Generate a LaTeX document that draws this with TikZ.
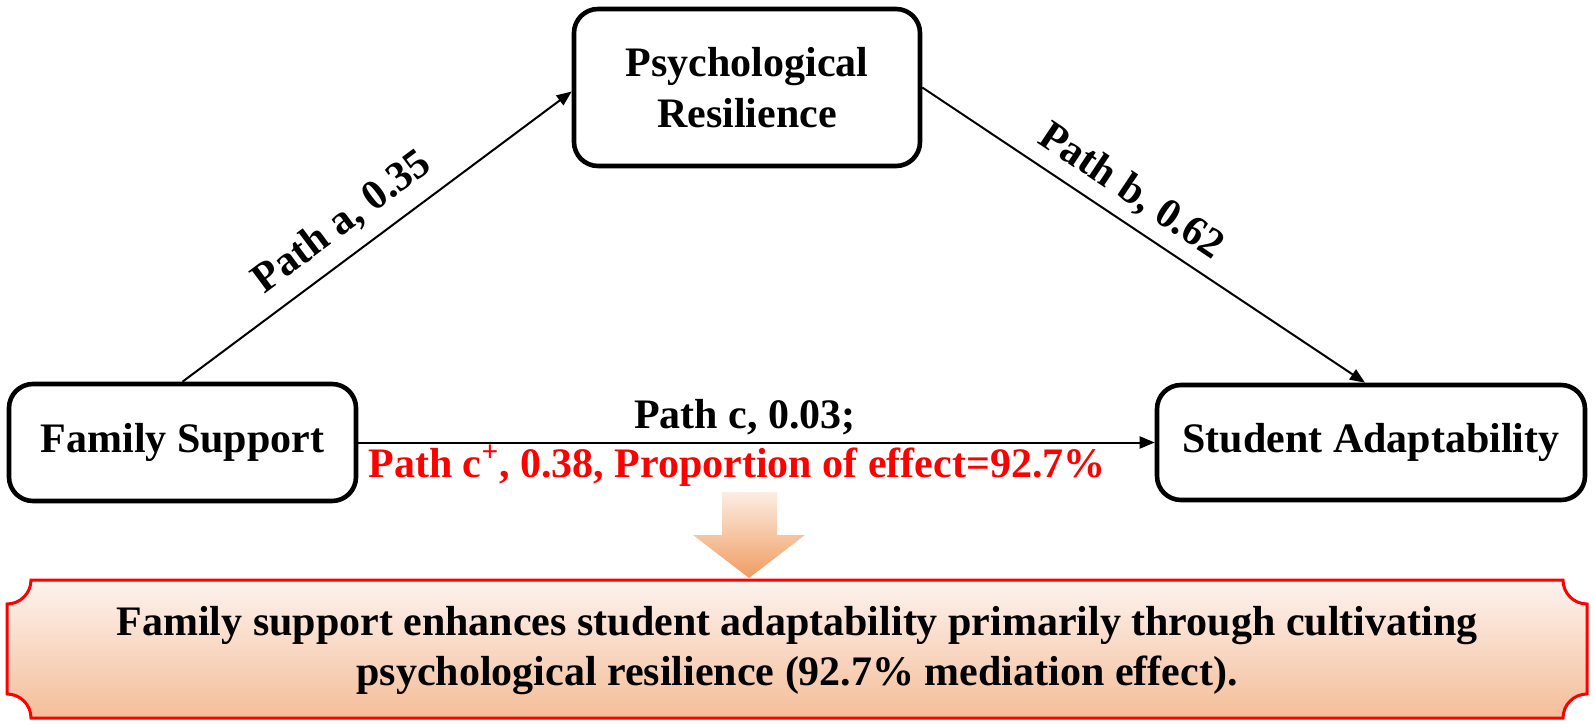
\documentclass[tikz,border=0pt]{standalone}
\usepackage{fontspec}
\setmainfont{Liberation Serif}
\usetikzlibrary{arrows.meta,calc}
\definecolor{boxtop}{HTML}{FDF3EF}
\definecolor{boxmid}{HTML}{F8D6C1}
\definecolor{boxbot}{HTML}{F4BD98}
\definecolor{arrtop}{HTML}{FCEDE4}
\definecolor{arrbot}{HTML}{F09C60}
\begin{document}
\begin{tikzpicture}[x=0.5pt,y=-0.5pt,
  box/.style={draw=black, line width=2.3pt, rounded corners=12pt, fill=white, align=center,
    font=\fontsize{21}{25.5}\selectfont\bfseries, inner sep=0pt},
  conn/.style={line width=1pt, -{Triangle[length=7.5pt,width=6pt]}},
  lbl/.style={font=\fontsize{21}{25}\selectfont\bfseries, inner sep=0pt, text depth=0pt},
  concl/.style={font=\fontsize{21}{25}\selectfont\bfseries, inner sep=0pt, align=center}]
\useasboundingbox (0,0) rectangle (1595,727);
% conclusion box
\path[draw=red, line width=1.5pt, top color=boxtop, middle color=boxmid, bottom color=boxbot]
  (31,580) -- (1563,580) .. controls (1563,593.25) and (1573.75,604) .. (1587,604)
  -- (1587,694) .. controls (1573.75,694) and (1563,704.75) .. (1563,718)
  -- (31,718) .. controls (31,704.75) and (20.25,694) .. (7,694)
  -- (7,604) .. controls (20.25,604) and (31,593.25) .. (31,580) -- cycle;
\node[concl] (concl) at (797,651) {Family support enhances student adaptability primarily through cultivating\\psychological resilience (92.7\% mediation effect).};
% big arrow
\path[top color=arrtop, bottom color=arrbot]
  (722,492) -- (777,492) -- (777,535) -- (805,535) -- (749,578) -- (693,535) -- (722,535) -- cycle;
% nodes
\node[box, minimum width=173pt, minimum height=78.5pt] (psych) at (747,87.5) {Psychological\\Resilience};
\node[box, minimum width=173.5pt, minimum height=58.5pt] (family) at (182.5,442.5) {Family Support};
\node[box, minimum width=214pt, minimum height=57.5pt] (student) at (1371,442.5) {Student Adaptability};
% connectors
\draw[conn] (family.north) -- node[lbl, sloped, pos=0.46, above=10pt] (la) {Path a, 0.35} ([yshift=-2pt]psych.west);
\draw[conn] (psych.east) -- node[lbl, sloped, pos=0.435, above=8.5pt] (lb) {Path b, 0.62} ([xshift=-3pt]student.north);
\draw[conn] (family.east) -- (student.west);
\node[lbl, anchor=base] (lc) at (745,428) {Path c, 0.03;};
\node[lbl, anchor=base, text=red] (lcp) at (737,477) {Path c\textsuperscript{+}, 0.38, Proportion of effect=92.7\%};
\end{tikzpicture}
\end{document}
